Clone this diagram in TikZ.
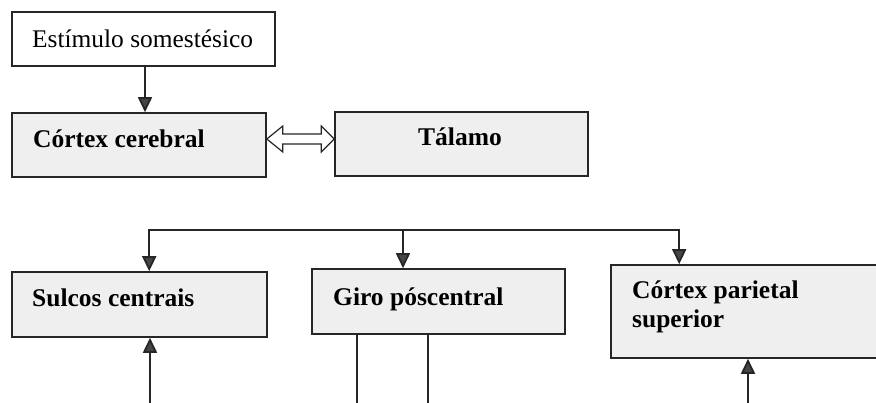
\documentclass[tikz,border=0pt]{standalone}
\usepackage{fontspec}
\setmainfont{Liberation Serif}
\usetikzlibrary{arrows.meta,calc}
\definecolor{ink}{HTML}{262626}
\definecolor{panel}{HTML}{EFEFEF}
\definecolor{headfill}{HTML}{454545}

\begin{document}
\begin{tikzpicture}[x=1pt,y=-1pt,
  box/.style={draw=ink,line width=1.6pt,rectangle,inner sep=0pt},
  plainbox/.style={box,fill=white},
  greybox/.style={box,fill=panel},
  lbl/.style={inner sep=0pt,anchor=base west,text=black,font=\fontsize{25.4}{29}\selectfont},
  blbl/.style={lbl,font=\fontsize{25.5}{29}\selectfont\bfseries},
  link/.style={draw=ink,line width=1.8pt},
  arr/.style={link,-{Triangle[width=14pt,length=15pt,fill=headfill]}}
]
\useasboundingbox (0,0) rectangle (876,403);
\clip (0,0) rectangle (876,403);

% boxes
\node[plainbox,minimum width=263pt,minimum height=54pt] (est) at (143.5,39) {};
\node[greybox,minimum width=254pt,minimum height=64pt] (cc) at (139,145) {};
\node[greybox,minimum width=253pt,minimum height=64pt] (tal) at (461.5,144) {};
\node[greybox,minimum width=255pt,minimum height=65pt] (sc) at (139.5,304.5) {};
\node[greybox,minimum width=253pt,minimum height=65pt] (gp) at (438.5,301.5) {};
\node[greybox,minimum width=279pt,minimum height=93pt] (cps) at (750.5,311.5) {};

% labels
\node[lbl] (est-t) at (32,48) {Estímulo somestésico};
\node[blbl] (cc-t) at (33,148) {Córtex cerebral};
\node[blbl,anchor=base] (tal-t) at (460,146) {Tálamo};
\node[blbl] (sc-t) at (32,307) {Sulcos centrais};
\node[blbl] (gp-t) at (333,306) {Giro póscentral};
\node[blbl] (cps-t1) at (632,299) {Córtex parietal};
\node[blbl] (cps-t2) at (632,328) {superior};

% stimulus to cortex
\coordinate (estout) at ($(est.south)+(1.5,0)$);
\draw[arr] (estout) -- (estout |- cc.north);

% hollow two-way arrow between cortex and thalamus
\coordinate (dl) at ($(cc.east)+(0,-6)$);
\coordinate (dr) at ($(tal.west)+(0,-5)$);
\draw[draw=ink,line width=1.2pt,fill=white]
  (dl) -- ++(16,-13) -- ++(0,8) -- ($(dr)+(-13,-5)$) -- ++(0,-8) -- (dr)
  -- ++(-13,13) -- ++(0,-8) -- ($(dl)+(16,5)$) -- ++(0,8) -- cycle;

% distribution bus to the lower row
\coordinate (bus) at (403,230);
\draw[arr] (bus) -- (bus |- gp.north);
\draw[arr] (bus) -| ($(sc.north west)+(138,0)$);
\draw[arr] (bus) -| ($(cps.north west)+(69,0)$);

% lines leaving the lower row
\coordinate (scfoot) at (150,410);
\draw[arr] (scfoot) -- (scfoot |- sc.south);
\draw[link] ($(gp.south west)+(46,0)$) -- ++(0,80);
\draw[link] ($(gp.south west)+(117,0)$) -- ++(0,80);
\coordinate (cpsfoot) at (748,410);
\draw[arr] (cpsfoot) -- (cpsfoot |- cps.south);
\end{tikzpicture}
\end{document}
